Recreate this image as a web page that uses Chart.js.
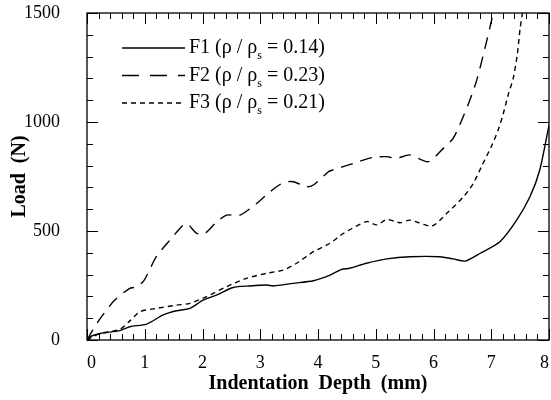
<!DOCTYPE html>
<html>
<head>
<meta charset="utf-8">
<script src="https://cdn.jsdelivr.net/npm/chart.js@4.4.0/dist/chart.umd.min.js"></script>
<style>
  html, body { margin: 0; padding: 0; background: #fff; }
</style>
</head>
<body>
<canvas id="c" width="551" height="400"></canvas>
<script>
// indentation depth (mm) / load (N)
const f1X = [0, 0.05, 0.23, 0.57, 0.74, 1.03, 1.32, 1.55, 1.78, 2.01, 2.24, 2.53, 2.82, 3.11, 3.23, 3.57, 3.92, 4.21, 4.41, 4.55, 4.84, 5.19, 5.59, 6.11, 6.34, 6.55, 6.81, 7.15, 7.44, 7.67, 7.84, 8.0];
const f1Y = [0, 15, 30, 43, 61, 73, 115, 134, 145, 183, 206, 241, 248, 252, 248, 260, 272, 298, 324, 329, 352, 372, 382, 382, 372, 362, 398, 451, 550, 657, 780, 985];

const f2X = [0, 0.1, 0.23, 0.48, 0.74, 0.83, 0.98, 1.2, 1.44, 1.67, 1.75, 1.9, 2.04, 2.25, 2.42, 2.65, 2.94, 3.17, 3.4, 3.57, 3.8, 3.92, 4.18, 4.26, 4.61, 4.96, 5.19, 5.36, 5.59, 5.91, 6.17, 6.34, 6.49, 6.63, 6.75, 6.89, 7.0, 7.04];
const f2Y = [0, 45, 99, 183, 237, 242, 270, 382, 459, 528, 530, 489, 489, 543, 573, 573, 627, 680, 722, 726, 703, 711, 772, 780, 810, 838, 841, 833, 849, 818, 879, 925, 1009, 1101, 1193, 1338, 1460, 1520];

const f3X = [0, 0.1, 0.23, 0.57, 0.75, 0.92, 1.2, 1.55, 1.78, 2.07, 2.42, 2.76, 3.11, 3.4, 3.63, 3.92, 4.21, 4.44, 4.84, 5.02, 5.19, 5.42, 5.59, 5.97, 6.23, 6.52, 6.69, 6.83, 7.0, 7.12, 7.21, 7.3, 7.38, 7.45, 7.5, 7.54, 7.56];
const f3Y = [0, 15, 30, 49, 90, 130, 145, 160, 168, 199, 245, 283, 306, 321, 352, 405, 444, 489, 543, 528, 553, 538, 550, 523, 581, 657, 719, 795, 887, 963, 1040, 1131, 1200, 1307, 1430, 1500, 1540];

const seriesNames = ['F1', 'F2', 'F3'];
const densityRatios = ['0.14', '0.23', '0.21'];
const dashes = [[], [12, 8], [5, 4]];

const serif = '"Liberation Serif", "Times New Roman", serif';

function pts(xs, ys) {
    return xs.map((x, i) => ({ x: x, y: ys[i] }));
}

// legend with the subscript s, drawn by hand
const legendBox = {
    id: 'legendBox',
    afterDraw(chart) {
        const ctx = chart.ctx;
        const legendDash = [[], [17, 11], [5, 4]];
        ctx.save();
        chart.data.datasets.forEach((ds, i) => {
            const cy = 48 + i * 27.5;
            ctx.strokeStyle = '#000';
            ctx.lineWidth = 1.3;
            ctx.setLineDash(legendDash[i]);
            ctx.beginPath();
            ctx.moveTo(122, cy);
            ctx.lineTo(185, cy);
            ctx.stroke();
            ctx.setLineDash([]);
            ctx.fillStyle = '#000';
            ctx.textBaseline = 'middle';
            ctx.font = '20px ' + serif;
            let x = 189;
            const a = seriesNames[i] + ' (\u03C1 / \u03C1';
            ctx.fillText(a, x, cy);
            x += ctx.measureText(a).width;
            ctx.font = '12px ' + serif;
            ctx.fillText('s', x, cy + 8);
            x += ctx.measureText('s').width;
            ctx.font = '20px ' + serif;
            ctx.fillText(' = ' + densityRatios[i] + ')', x, cy);
        });
        ctx.restore();
    }
};

// box round the plot and inward ticks on all four sides
const frameTicks = {
    id: 'frameTicks',
    afterDatasetsDraw(chart) {
        const { ctx, chartArea: a, scales: { x, y } } = chart;
        ctx.save();
        ctx.strokeStyle = '#000';
        ctx.lineWidth = 1.3;
        ctx.strokeRect(a.left, a.top, a.right - a.left, a.bottom - a.top);
        ctx.lineWidth = 1;
        ctx.beginPath();
        for (let i = 0; i <= 40; i++) {
            const px = Math.round(x.getPixelForValue(i * 0.2)) + 0.5;
            const len = i % 5 === 0 ? 11 : 6;
            ctx.moveTo(px, a.bottom); ctx.lineTo(px, a.bottom - len);
            ctx.moveTo(px, a.top); ctx.lineTo(px, a.top + len);
        }
        for (let i = 0; i <= 15; i++) {
            const py = Math.round(y.getPixelForValue(i * 100)) + 0.5;
            const len = i % 5 === 0 ? 11 : 6;
            ctx.moveTo(a.left, py); ctx.lineTo(a.left + len, py);
            ctx.moveTo(a.right, py); ctx.lineTo(a.right - len, py);
        }
        ctx.stroke();
        ctx.restore();
    }
};

const ctx = document.getElementById('c').getContext('2d');
new Chart(ctx, {
    type: 'line',
    data: {
        datasets: [f1X, f2X, f3X].map((xs, i) => ({
            label: seriesNames[i],
            data: pts(xs, [f1Y, f2Y, f3Y][i]),
            borderColor: '#000',
            borderWidth: 1.4,
            borderDash: dashes[i],
            pointRadius: 0,
            tension: 0.25,
            fill: false
        }))
    },
    options: {
        responsive: false,
        animation: false,
        layout: { padding: { top: 13, right: 2, left: 0, bottom: 0 } },
        plugins: { legend: { display: false }, tooltip: { enabled: false } },
        scales: {
            x: {
                type: 'linear',
                min: 0, max: 8,
                grid: { display: false },
                border: { display: false },
                ticks: { stepSize: 1, padding: 4, align: 'inner', color: '#000', font: { family: serif, size: 18 } },
                title: { display: true, text: 'Indentation  Depth  (mm)', color: '#000',
                         padding: { top: 0, bottom: 4 }, font: { family: serif, size: 20, weight: 'bold' } },
                afterFit(s) { s.height = 60; s.paddingLeft = 0; s.paddingRight = 0; }
            },
            y: {
                min: 0, max: 1500,
                grid: { display: false },
                border: { display: false },
                ticks: { stepSize: 500, padding: 19, color: '#000', font: { family: serif, size: 18 },
                         callback: v => String(v) },
                title: { display: true, text: 'Load  (N)', color: '#000',
                         padding: { top: 8, bottom: 0 }, font: { family: serif, size: 20, weight: 'bold' } },
                afterFit(s) { s.width = 87; s.paddingTop = 0; s.paddingBottom = 0; }
            }
        }
    },
    plugins: [frameTicks, legendBox]
});
</script>
</body>
</html>
